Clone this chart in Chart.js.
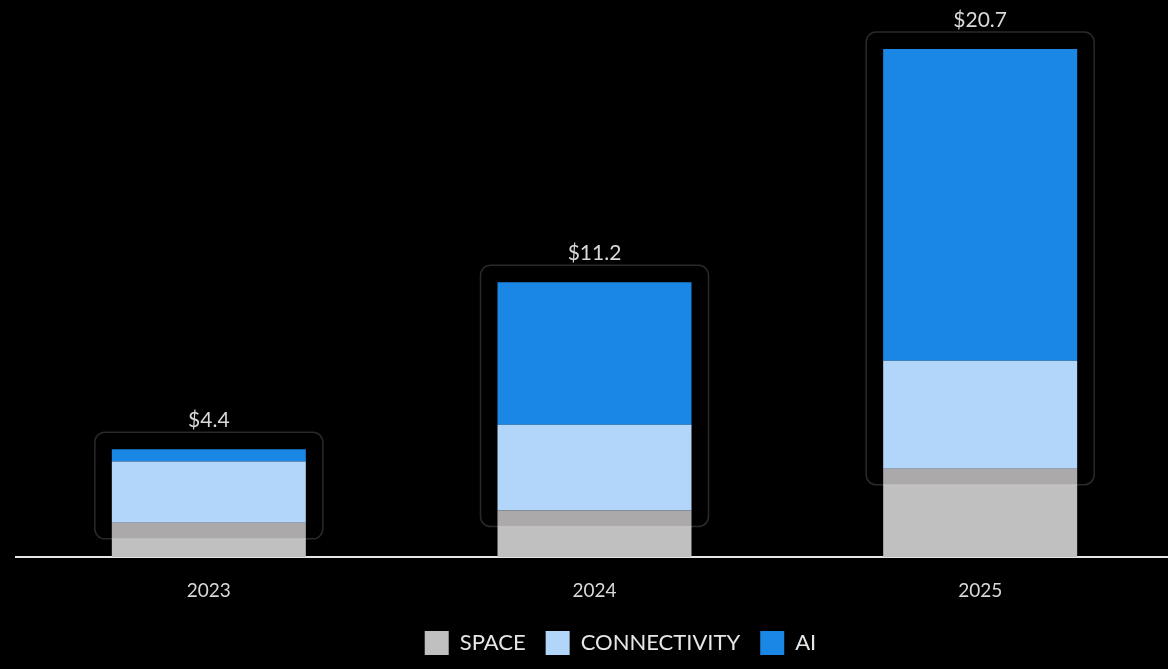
<!DOCTYPE html>
<html>
<head>
<meta charset="utf-8">
<script src="https://cdn.jsdelivr.net/npm/chart.js@4"></script>
<style>
    html, body { margin: 0; padding: 0; background: #000; overflow: hidden; }
    #wrap { width: 1173px; height: 669px; }
</style>
</head>
<body>
<div id="wrap"><canvas id="revenueChart"></canvas></div>
<script>
const years = ['2023', '2024', '2025'];
const space = [1.4, 1.9, 3.6];
const connectivity = [2.5, 3.5, 4.4];
const ai = [0.5, 5.8, 12.7];
const totals = ['$4.4', '$11.2', '$20.7'];

const FONT = 'Lato, "Open Sans", sans-serif';

// faint rounded frames around each stack, slightly shading the gray part inside
const framePlugin = {
    id: 'frames',
    afterDatasetsDraw(chart) {
        const ctx = chart.ctx;
        const top = chart.getDatasetMeta(2).data;
        const base = chart.getDatasetMeta(0).data;
        ctx.save();
        top.forEach((bar, i) => {
            const x = bar.x - 114;
            const y = bar.y - 17;
            const w = 228;
            const bottom = base[i].y + 16;
            const half = base[i].width / 2;
            ctx.fillStyle = 'rgba(40,30,30,0.14)';
            ctx.fillRect(base[i].x - half, base[i].y, half * 2, bottom - base[i].y);
            ctx.strokeStyle = 'rgba(255,255,255,0.16)';
            ctx.lineWidth = 1.5;
            ctx.beginPath();
            ctx.roundRect(x, y, w, bottom - y, 10);
            ctx.stroke();
        });
        ctx.restore();
    }
};

// total labels above the stacks
const totalsPlugin = {
    id: 'totals',
    afterDatasetsDraw(chart) {
        const ctx = chart.ctx;
        const top = chart.getDatasetMeta(2).data;
        ctx.save();
        ctx.font = '21px ' + FONT;
        ctx.fillStyle = '#d9d9d9';
        ctx.textAlign = 'center';
        ctx.textBaseline = 'middle';
        top.forEach((bar, i) => {
            ctx.fillText(totals[i], bar.x, bar.y - 29);
        });
        ctx.restore();
    }
};

// legend sits a little right of centre in the original
const legendShift = {
    id: 'legendShift',
    afterLayout(chart) {
        chart.legend.left += 26;
        chart.legend.right += 26;
    }
};

const ctx = document.getElementById('revenueChart');
new Chart(ctx, {
    type: 'bar',
    data: {
        labels: years,
        datasets: [{
            label: 'SPACE',
            data: space,
            backgroundColor: '#c0c0c0'
        }, {
            label: 'CONNECTIVITY',
            data: connectivity,
            backgroundColor: '#b2d6fa'
        }, {
            label: 'AI',
            data: ai,
            backgroundColor: '#1a87e6'
        }]
    },
    options: {
        responsive: true,
        maintainAspectRatio: false,
        animation: false,
        layout: {
            padding: { left: 16, right: 0, top: 0, bottom: 4 }
        },
        datasets: {
            bar: {
                categoryPercentage: 1,
                barPercentage: 0.503
            }
        },
        scales: {
            x: {
                stacked: true,
                grid: { display: false },
                border: { display: true, color: '#e6e6e6', width: 2 },
                ticks: {
                    color: '#d9d9d9',
                    font: { family: FONT, size: 19 },
                    padding: 14
                },
                afterFit(scale) {
                    scale.height -= 5;
                }
            },
            y: {
                stacked: true,
                display: false,
                min: 0,
                max: 22.7
            }
        },
        plugins: {
            legend: {
                position: 'bottom',
                labels: {
                    color: '#e6e6e6',
                    boxWidth: 24,
                    boxHeight: 24,
                    padding: 20,
                    font: { family: FONT, size: 22 }
                }
            },
            tooltip: { enabled: false }
        }
    },
    plugins: [framePlugin, totalsPlugin, legendShift]
});
</script>
</body>
</html>
